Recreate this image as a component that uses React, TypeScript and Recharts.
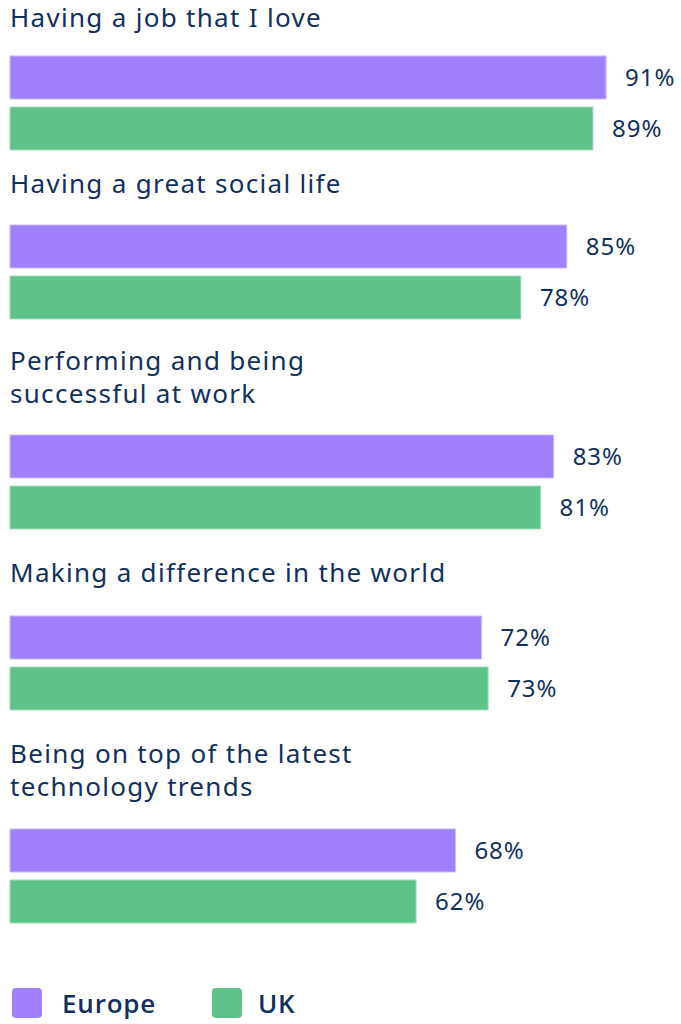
import { BarChart, Bar, XAxis, YAxis, LabelList } from "recharts";

const categories = [
  "Having a job that I love",
  "Having a great social life",
  "Performing and being\nsuccessful at work",
  "Making a difference in the world",
  "Being on top of the latest\ntechnology trends",
];
const europe = [91, 85, 83, 72, 68];
const uk = [89, 78, 81, 73, 62];
const seriesNames = ["Europe", "UK"];

const PURPLE = "#a080fd";
const GREEN = "#5ec38b";
const NAVY = "#12305c";
const FONT = "'Noto Sans', sans-serif";

// layout positions (px from page top)
const titleTops = [4, 170, 344, 559, 737];
const titleLineHeights = [27, 27, 33, 27, 33];
const chartTops = [55, 224, 434, 615, 828];
const legendLefts = [12, 212];
const legendGaps = [20, 16];

const fmtPct = (v: number) => `${v}%`;

export default function App() {
  return (
    <div
      style={{
        position: "absolute",
        top: 0,
        left: 0,
        width: 681,
        height: 1024,
        background: "#fff",
        fontFamily: FONT,
        color: NAVY,
      }}
    >
      {categories.map((cat, i) => {
        const data = [{ name: cat, Europe: europe[i], UK: uk[i] }];
        return (
          <div key={cat}>
            <div
              style={{
                position: "absolute",
                top: titleTops[i],
                left: 10,
                fontSize: 26,
                letterSpacing: 1.3,
                lineHeight: `${titleLineHeights[i]}px`,
                whiteSpace: "pre",
              }}
            >
              {cat}
            </div>
            <div style={{ position: "absolute", top: chartTops[i], left: 0 }}>
              <BarChart
                width={681}
                height={96}
                data={data}
                layout="vertical"
                margin={{ top: 0, right: 16, left: 10, bottom: 0 }}
                barCategoryGap={0}
                barGap={8}
              >
                <XAxis type="number" domain={[0, 100]} hide />
                <YAxis type="category" dataKey="name" hide />
                <Bar
                  dataKey="Europe"
                  fill={PURPLE}
                  stroke="#c9b8fe"
                  strokeWidth={1}
                  barSize={43}
                  isAnimationActive={false}
                >
                  <LabelList
                    dataKey="Europe"
                    position="right"
                    offset={19}
                    formatter={fmtPct}
                    style={{ fill: NAVY, fontSize: 24, fontFamily: FONT, letterSpacing: 1 }}
                  />
                </Bar>
                <Bar
                  dataKey="UK"
                  fill={GREEN}
                  stroke="#a6dcbc"
                  strokeWidth={1}
                  barSize={43}
                  isAnimationActive={false}
                >
                  <LabelList
                    dataKey="UK"
                    position="right"
                    offset={19}
                    formatter={fmtPct}
                    style={{ fill: NAVY, fontSize: 24, fontFamily: FONT, letterSpacing: 1 }}
                  />
                </Bar>
              </BarChart>
            </div>
          </div>
        );
      })}
      {seriesNames.map((s, i) => (
        <div
          key={s}
          style={{
            position: "absolute",
            top: 988,
            left: legendLefts[i],
            height: 30,
            display: "flex",
            alignItems: "center",
            fontFamily: "'Open Sans', sans-serif",
            fontWeight: 600,
            fontSize: 26,
            letterSpacing: 0.8,
          }}
        >
          <div
            style={{
              width: 30,
              height: 30,
              borderRadius: 4,
              background: i === 0 ? PURPLE : GREEN,
              marginRight: legendGaps[i],
            }}
          />
          <span>{s}</span>
        </div>
      ))}
    </div>
  );
}
